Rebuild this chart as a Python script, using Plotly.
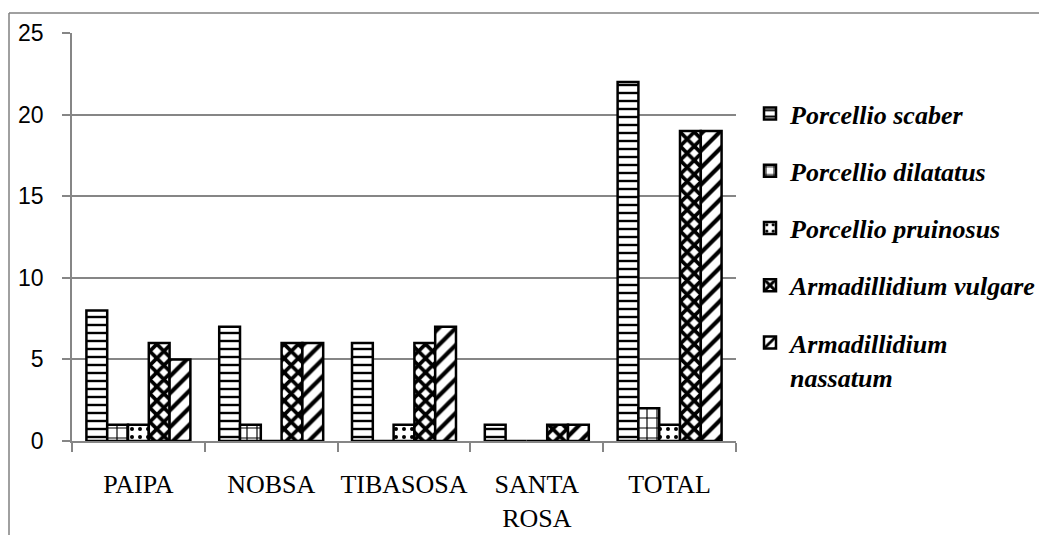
import plotly.graph_objects as go

categories = ["PAIPA", "NOBSA", "TIBASOSA", "SANTA<br>ROSA", "TOTAL"]
series_names = ["Porcellio scaber", "Porcellio dilatatus", "Porcellio pruinosus",
                "Armadillidium vulgare", "Armadillidium<br>nassatum"]
porcellio_scaber = [8, 7, 6, 1, 22]
porcellio_dilatatus = [1, 1, 0, 0, 2]
porcellio_pruinosus = [1, 0, 1, 0, 1]
armadillidium_vulgare = [6, 6, 6, 1, 19]
armadillidium_nassatum = [5, 6, 7, 1, 19]
y_ticks = [0, 5, 10, 15, 20, 25]

values = [porcellio_scaber, porcellio_dilatatus, porcellio_pruinosus,
          armadillidium_vulgare, armadillidium_nassatum]
patterns = [
    dict(shape="-", size=8, solidity=0.3),
    dict(shape="+", size=10, solidity=0.22),
    dict(shape=".", size=8, solidity=0.2),
    dict(shape="x", size=10, solidity=0.6),
    dict(shape="/", size=12, solidity=0.35),
]

SERIF = "Liberation Serif, Times New Roman, Times, serif"

fig = go.Figure()
for name, vals, pat in zip(series_names, values, patterns):
    label = "<b><i>" + name.replace("<br>", "</i></b><br><b><i>") + "</i></b>"
    fig.add_trace(go.Bar(
        x=categories, y=vals, name=label, legendgroup=name,
        marker=dict(color="white", line=dict(color="black", width=2.5),
                    pattern=dict(fgcolor="black", bgcolor="white", fillmode="replace", **pat)),
    ))

# the page body adds an 8px offset; work in figure coordinates
W, H = 1047, 535
L, R, T, B = 64, 728, 25, 433
def px(x):
    return (x - L) / (R - L)
def py(y):
    return (B - y) / (B - T)

fig.update_layout(
    width=W, height=H,
    margin=dict(l=L, r=W - R, t=T, b=H - B, autoexpand=False),
    barmode="group", bargap=0.217, bargroupgap=0,
    plot_bgcolor="white", paper_bgcolor="white",
    showlegend=True,
    legend=dict(
        x=px(742), y=py(82), xanchor="left", yanchor="top",
        font=dict(family=SERIF, size=26, color="black"),
        tracegroupgap=20.5, valign="top", itemwidth=30,
        bgcolor="rgba(0,0,0,0)",
    ),
    xaxis=dict(
        showline=True, linecolor="#868686", linewidth=1.5,
        ticks="outside", tickson="boundaries", ticklen=9, tickcolor="#868686", tickwidth=1.5,
        tickfont=dict(family=SERIF, size=26, color="black"),
        ticklabelstandoff=19, tickangle=0, automargin=False,
    ),
    yaxis=dict(
        range=[0, 25], tickvals=y_ticks,
        showgrid=True, gridcolor="#868686", gridwidth=1.5,
        showline=True, linecolor="#868686", linewidth=1.5,
        ticks="outside", ticklen=8, tickcolor="#868686", tickwidth=1.5,
        tickfont=dict(family="Liberation Sans", size=23, color="black"),
        ticklabelstandoff=14, zeroline=False, automargin=False,
    ),
    shapes=[
        dict(type="line", xref="paper", yref="paper", x0=px(1), x1=px(1047), y0=py(5), y1=py(5),
             line=dict(color="#808080", width=1.5)),
        dict(type="line", xref="paper", yref="paper", x0=px(1), x1=px(1), y0=py(5), y1=py(535),
             line=dict(color="#808080", width=1.5)),
    ],
)

fig.write_html("out.html")
